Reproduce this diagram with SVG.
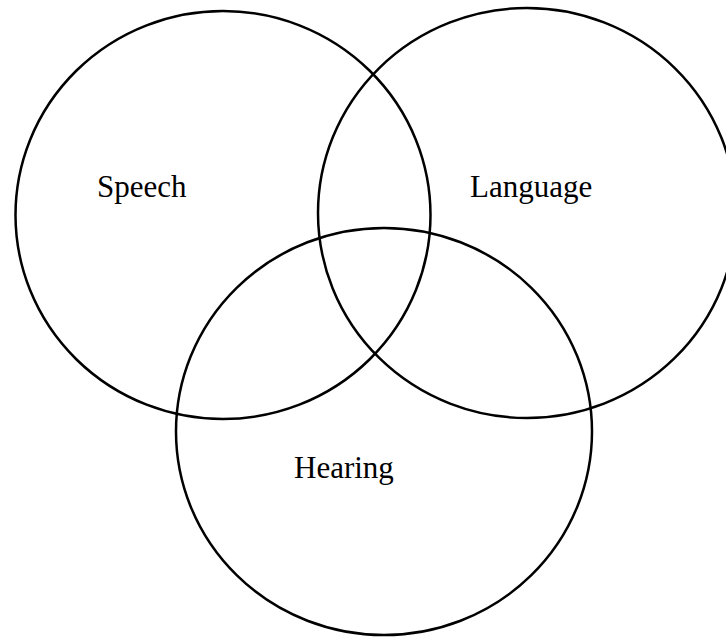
<svg xmlns="http://www.w3.org/2000/svg" width="726" height="637" viewBox="0 0 726 637">
<style>
.c{fill:none;stroke:#000;stroke-width:2.5}
.t{font-family:"Liberation Serif","Times New Roman",serif;font-size:31px;fill:#000}
</style>
<rect width="726" height="637" fill="#fff"/>
<g id="speech"><ellipse class="c" cx="223" cy="215" rx="207.5" ry="204"/><text class="t" x="97" y="197">Speech</text></g>
<g id="language"><ellipse class="c" cx="527" cy="213" rx="209" ry="205"/><text class="t" x="470" y="197">Language</text></g>
<g id="hearing"><ellipse class="c" cx="384" cy="431.5" rx="208" ry="203.5"/><text class="t" x="294" y="478">Hearing</text></g>
<g id="connectors"/>
</svg>
